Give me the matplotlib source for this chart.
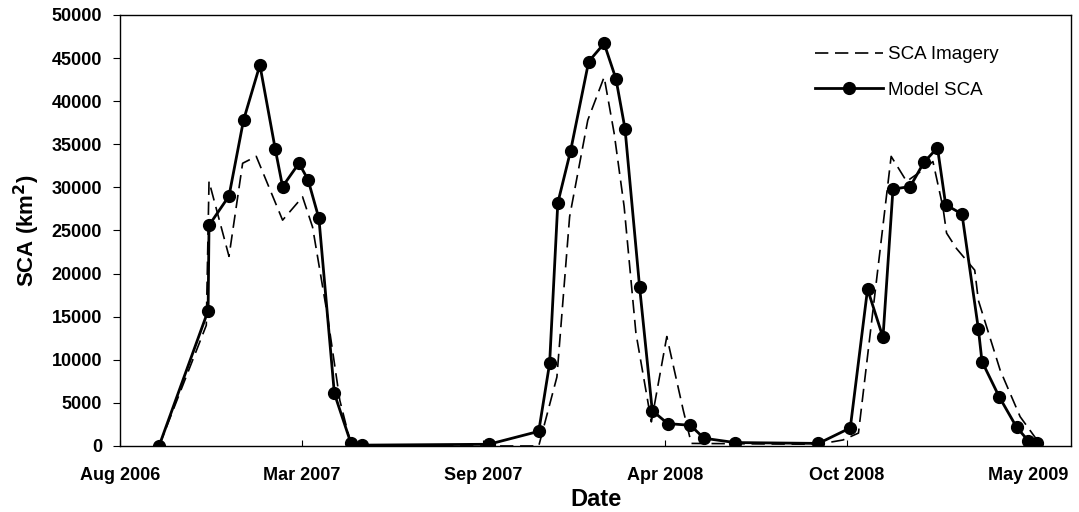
import matplotlib
matplotlib.use("Agg")
import matplotlib.pyplot as plt
import pandas as pd

# Model SCA (solid line with markers)
model_dates = ["2006-09-27", "2006-11-20", "2006-11-21", "2006-12-13", "2006-12-29",
               "2007-01-16", "2007-02-02", "2007-02-10", "2007-02-28", "2007-03-10",
               "2007-03-22", "2007-04-08", "2007-04-26", "2007-05-08", "2007-09-25",
               "2007-11-19", "2007-12-01", "2007-12-10", "2007-12-24", "2008-01-13",
               "2008-01-30", "2008-02-12", "2008-02-22", "2008-03-09", "2008-03-23",
               "2008-04-09", "2008-05-04", "2008-05-19", "2008-06-22", "2008-09-22",
               "2008-10-27", "2008-11-15", "2008-12-02", "2008-12-13", "2009-01-01",
               "2009-01-16", "2009-01-31", "2009-02-09", "2009-02-27", "2009-03-17",
               "2009-03-21", "2009-04-09", "2009-04-28", "2009-05-11", "2009-05-21"]
model_sca = [0, 15700, 25600, 29000, 37800,
             44200, 34400, 30100, 32800, 30900,
             26400, 6100, 400, 100, 200,
             1700, 9600, 28200, 34200, 44600,
             46700, 42600, 36800, 18500, 4100,
             2600, 2400, 900, 400, 300,
             2100, 18200, 12600, 29800, 30100,
             32900, 34600, 28000, 26900, 13600,
             9800, 5700, 2200, 600, 400]

# SCA Imagery (dashed line)
image_dates = ["2006-09-27", "2006-11-18", "2006-11-21", "2006-12-13", "2006-12-28",
               "2007-01-12", "2007-02-10", "2007-03-04", "2007-03-15", "2007-03-31",
               "2007-04-14", "2007-04-25", "2007-05-08", "2007-11-19", "2007-12-09",
               "2007-12-23", "2008-01-12", "2008-01-30", "2008-02-10", "2008-02-21",
               "2008-03-05", "2008-03-22", "2008-04-08", "2008-04-26", "2008-05-05",
               "2008-09-22", "2008-10-19", "2008-11-05", "2008-12-11", "2008-12-28",
               "2009-01-12", "2009-01-26", "2009-02-06", "2009-02-10", "2009-02-21",
               "2009-03-13", "2009-03-17", "2009-04-10", "2009-05-02", "2009-05-24"]
image_sca = [0, 14000, 30700, 22000, 32800,
             33600, 26200, 28900, 25400, 15400,
             5300, 700, 0, 0, 8000,
             26600, 37800, 42800, 36300, 27800,
             13100, 2800, 12700, 4200, 300,
             200, 700, 1500, 33600, 30700,
             31800, 33000, 27700, 24700, 22900,
             20400, 16900, 8800, 3400, 200]

tick_dates = ["2006-08-15", "2007-03-03", "2007-09-19", "2008-04-06", "2008-10-23", "2009-05-11"]
tick_labels = ["Aug 2006", "Mar 2007", "Sep 2007", "Apr 2008", "Oct 2008", "May 2009"]

plt.rcParams['font.family'] = ['Liberation Sans', 'DejaVu Sans']

fig = plt.figure(figsize=(10.79, 5.12), dpi=100)
ax = fig.add_axes([120/1079, 1-446/512, (1071-120)/1079, (446-15)/512])

ax.plot(pd.to_datetime(image_dates), image_sca, color='black', lw=1.2,
        linestyle=(0, (8, 4)), label='SCA Imagery')
ax.plot(pd.to_datetime(model_dates), model_sca, color='black', lw=2.0,
        marker='o', markersize=8.5, label='Model SCA')

ax.set_xlim(pd.Timestamp("2006-08-15"), pd.Timestamp("2009-06-27"))
ax.set_ylim(0, 50000)
ax.set_yticks(range(0, 50001, 5000))
ax.set_xticks(pd.to_datetime(tick_dates))
ax.set_xticklabels(tick_labels)

for lbl in ax.get_xticklabels() + ax.get_yticklabels():
    lbl.set_fontweight('bold')
    lbl.set_fontsize(13)
ax.tick_params(axis='x', direction='in', length=4, pad=15)
ax.tick_params(axis='y', direction='out', length=5, pad=8)

ax.set_xlabel('Date', fontsize=17, fontweight='bold', labelpad=3)
ax.set_ylabel('SCA (km$^\\mathbf{2}$)', fontsize=16, fontweight='bold', labelpad=7)

for s in ax.spines.values():
    s.set_linewidth(1.0)

leg = ax.legend(loc='upper left', bbox_to_anchor=((815-120)/951, 0.928), frameon=False,
                fontsize=13.5, handlelength=3.6, handletextpad=0.3, labelspacing=1.0,
                borderpad=0, borderaxespad=0)

fig.savefig('out.png', dpi=100)
